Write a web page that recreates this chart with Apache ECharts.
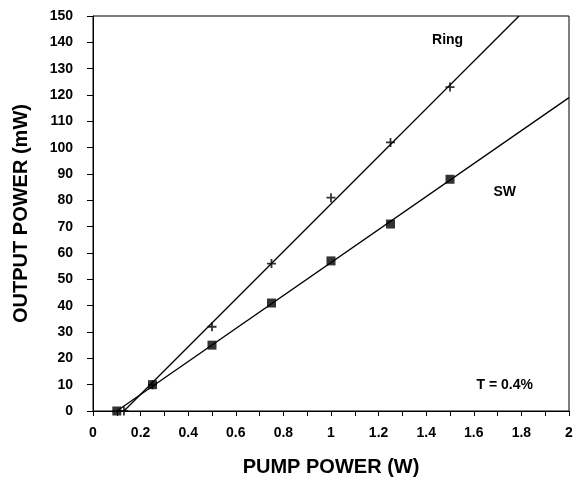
<!DOCTYPE html>
<html>
<head>
<meta charset="utf-8">
<script src="https://cdn.jsdelivr.net/npm/echarts@6/dist/echarts.min.js"></script>
<style>html,body{margin:0;padding:0;background:#fff}#c{width:575px;height:480px}</style>
</head>
<body>
<div id="c"></div>
<script>
// Measured data (pump power W, output power mW)
const ringPoints = [[0.13, 0], [0.25, 10], [0.5, 32], [0.75, 56], [1.0, 81], [1.25, 102], [1.5, 123]];
const swPoints = [[0.1, 0], [0.25, 10], [0.5, 25], [0.75, 41], [1.0, 57], [1.25, 71], [1.5, 88]];
// Fitted straight lines (endpoints)
const ringFit = [[0.13, 0], [1.79, 150]];
const swFit = [[0.1, 0], [2.0, 119]];
const labels = [
  { text: 'Ring', x: 1.49, y: 141 },
  { text: 'SW', x: 1.73, y: 83 },
  { text: 'T = 0.4%', x: 1.73, y: 10 }
];

const FONT = '"Liberation Sans", Arial, sans-serif';
const plus = 'path://M4,0H6V4H10V6H6V10H4V6H0V4H4Z';

const chart = echarts.init(document.getElementById('c'), null, { renderer: 'canvas' });
chart.setOption({
  animation: false,
  backgroundColor: '#fff',
  grid: { left: 93, right: 6, top: 16, bottom: 69, show: true, borderColor: '#000', borderWidth: 1,
          containLabel: false, outerBoundsMode: 'none' },
  xAxis: {
    type: 'value', min: 0, max: 2, interval: 0.2,
    name: 'PUMP POWER (W)', nameLocation: 'middle', nameGap: 46,
    nameTextStyle: { fontFamily: FONT, fontWeight: 'bold', fontSize: 20, color: '#000' },
    axisLine: { show: true, lineStyle: { color: '#000', width: 1 } },
    axisTick: { show: true, inside: false, length: 5, lineStyle: { color: '#000' } },
    minorTick: { show: true, splitNumber: 2, length: 5, lineStyle: { color: '#000' } },
    splitLine: { show: false },
    axisLabel: { fontFamily: FONT, fontWeight: 'bold', fontSize: 14, color: '#000', margin: 15 }
  },
  yAxis: {
    type: 'value', min: 0, max: 150, interval: 10,
    name: 'OUTPUT POWER (mW)', nameLocation: 'middle', nameGap: 62,
    nameTextStyle: { fontFamily: FONT, fontWeight: 'bold', fontSize: 20, color: '#000' },
    axisLine: { show: true, lineStyle: { color: '#000', width: 1 } },
    axisTick: { show: true, inside: false, length: 6, lineStyle: { color: '#000' } },
    splitLine: { show: false },
    axisLabel: { fontFamily: FONT, fontWeight: 'bold', fontSize: 14, color: '#000', margin: 20 }
  },
  series: [
    { type: 'line', data: ringFit, symbol: 'none', lineStyle: { color: '#000', width: 1.3 }, z: 2 },
    { type: 'line', data: swFit, symbol: 'none', lineStyle: { color: '#000', width: 1.3 }, z: 2 },
    { type: 'scatter', data: ringPoints, symbol: plus, symbolSize: 9, itemStyle: { color: '#000' }, z: 3 },
    { type: 'scatter', data: swPoints, symbol: 'rect', symbolSize: 9, itemStyle: { color: '#000' }, z: 4 },
    {
      type: 'scatter', data: labels.map(l => ({ value: [l.x, l.y], label: { formatter: l.text } })),
      symbolSize: 0, silent: true, itemStyle: { color: '#000', opacity: 1 },
      label: { show: true, position: 'inside', fontFamily: FONT, fontWeight: 'bold', fontSize: 14,
               color: '#000', textBorderWidth: 0, opacity: 1 }
    }
  ]
});
</script>
</body>
</html>
